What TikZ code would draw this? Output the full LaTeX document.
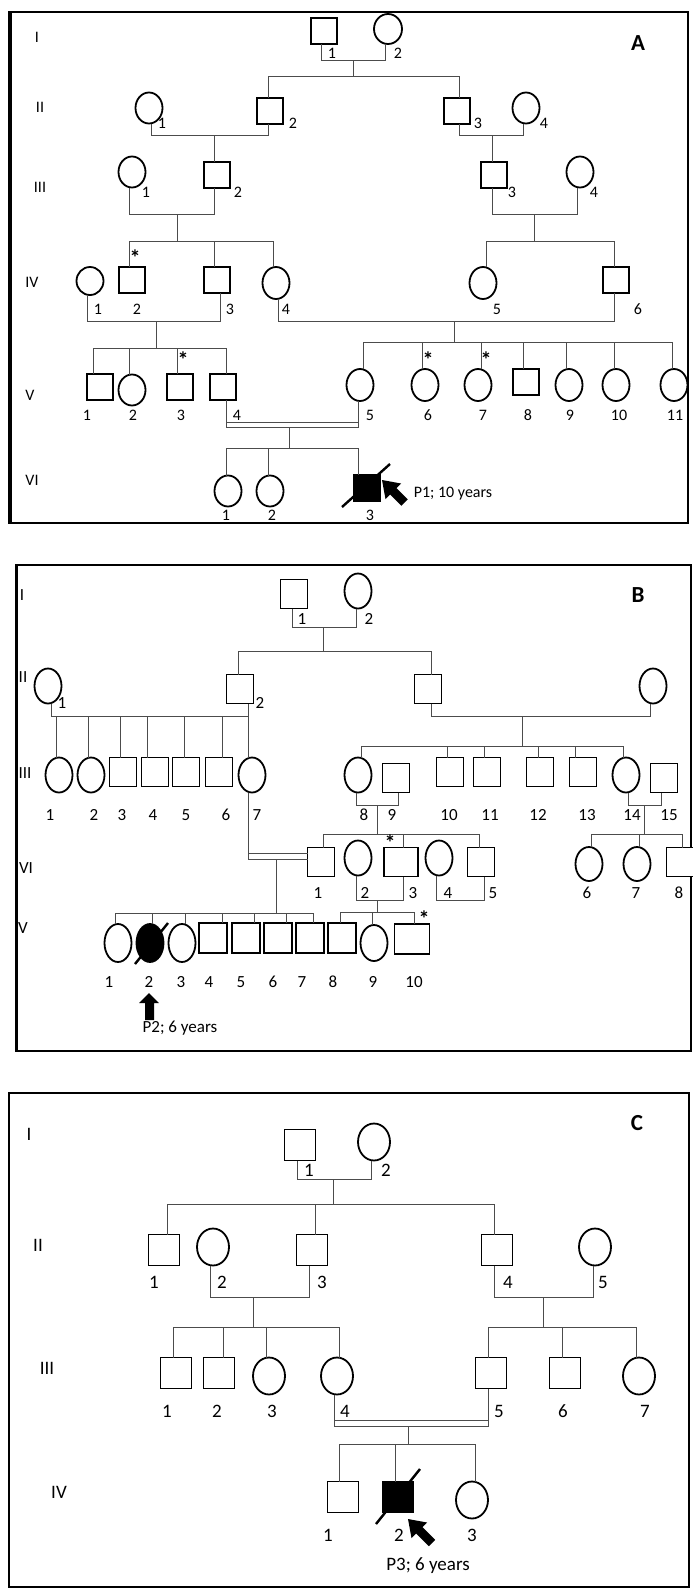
\documentclass[tikz,border=0pt]{standalone}
\usepackage{fontspec}
\setmainfont{Carlito}
\usetikzlibrary{shapes.geometric}
\newcounter{lc}
\newcommand\plab[3]{\stepcounter{lc}\node[num] (t\arabic{lc}) at (#1,#2) {#3};}
\newcommand\pmar[5]{\draw[ln] (#1.south -| #2,0) -- (#2,#5) -- (#4,#5) -- (#3.south -| #4,0);}
\newcommand\pkid[3]{\draw[ln] (#1.north -| #2,0) -- (#2,#3);}
\tikzset{
  sym/.style={draw, line width=1.8pt, inner sep=0pt, outer sep=0pt, fill=white},
  sq/.style={sym, rectangle, minimum width=26pt, minimum height=26pt},
  ci/.style={sym, ellipse, minimum width=27pt, minimum height=31pt},
  aff/.style={fill=black},
  ln/.style={line width=0.8pt, black!70},
  sl/.style={line width=2.4pt},
  num/.style={inner sep=0pt, font=\fontsize{16}{16}\selectfont},
  pan/.style={inner sep=0pt, font=\fontsize{23}{23}\selectfont\bfseries},
  ast/.style={inner sep=0pt, anchor=north, font=\fontsize{22}{22}\selectfont\bfseries},
  frame/.style={line width=1.8pt}
}
\begin{document}
\begin{tikzpicture}[x=1pt,y=-1pt]
\useasboundingbox (0,0) rectangle (693,1593);
% ================= Panel A =================
\draw[frame] (10,12) rectangle (688,523);
\draw[line width=3.5pt] (10,11) -- (10,524);
\node[pan] (pA) at (638,43) {A};
\begin{scope}[num/.style={inner sep=0pt, font=\fontsize{16}{16}\selectfont}]
\plab{37}{37}{I}\plab{40}{107}{II}\plab{40}{187}{III}
\plab{32}{282}{IV}\plab{30}{395}{V}\plab{32}{480}{VI}
% gen I
\node[sq] (a11) at (324,31) {};
\node[ci, minimum width=28pt, minimum height=30pt] (a12) at (388,29) {};
\plab{332}{53}{1}\plab{398}{53}{2}
\pmar{a11}{321}{a12}{385}{60}
\draw[ln] (353,60) -- (353,76);
\draw[ln] (268,76) -- (459,76);
% gen II
\node[ci] (a21) at (149,108) {};
\node[sq] (a22) at (270,111) {};
\node[sq] (a23) at (457,111) {};
\node[ci] (a24) at (526,108) {};
\pkid{a22}{268}{76}\pkid{a23}{459}{76}
\plab{162}{123}{1}\plab{293}{123}{2}\plab{478}{123}{3}\plab{544}{123}{4}
\pmar{a21}{151}{a22}{268}{135}
\pmar{a23}{459}{a24}{523}{135}
% gen III
\node[ci] (a31) at (132,172) {};
\node[sq] (a32) at (217,175) {};
\node[sq] (a33) at (494,175) {};
\node[ci] (a34) at (580,172) {};
\pkid{a32}{214}{135}\pkid{a33}{492}{135}
\plab{146}{192}{1}\plab{238}{192}{2}\plab{512}{192}{3}\plab{594}{192}{4}
\pmar{a31}{129}{a32}{214}{214}
\draw[ln] (177,214) -- (177,241);
\draw[ln] (129,241) -- (273,241);
\pmar{a33}{492}{a34}{577}{214}
\draw[ln] (534,214) -- (534,241);
\draw[ln] (486,241) -- (614,241);
% gen IV
\node[ci, minimum height=28pt] (a41) at (90,281) {};
\node[sq] (a42) at (132,280) {};
\node[sq] (a43) at (217,280) {};
\node[ci, minimum height=32pt] (a44) at (276,283) {};
\node[ci, minimum height=32pt] (a45) at (483,283) {};
\node[sq] (a46) at (616,280) {};
\pkid{a42}{129}{241}\pkid{a43}{214}{241}\pkid{a44}{273}{241}
\pkid{a45}{486}{241}\pkid{a46}{614}{241}
\node[ast] (s1) at (135,250) {*};
\plab{98}{309}{1}\plab{137}{309}{2}\plab{230}{309}{3}\plab{286}{309}{4}
\plab{497}{309}{5}\plab{638}{309}{6}
\pmar{a41}{87}{a43}{220}{321}
\draw[ln] (156,321) -- (156,348);
\draw[ln] (93,348) -- (226,348);
\pmar{a44}{278}{a46}{614}{321}
\draw[ln] (454,321) -- (454,342);
\draw[ln] (363,342) -- (672,342);
% gen V
\node[sq] (a51) at (100,387) {};
\node[ci] (a52) at (132,390) {};
\node[sq] (a53) at (180,387) {};
\node[sq] (a54) at (223,387) {};
\pkid{a51}{93}{348}\pkid{a52}{129}{348}\pkid{a53}{177}{348}\pkid{a54}{226}{348}
\node[ast] (s2) at (183,352) {*};
\plab{87}{415}{1}\plab{133}{415}{2}\plab{181}{415}{3}\plab{237}{415}{4}
\node[ci, minimum height=32pt] (a55) at (360,385) {};
\node[ci, minimum height=32pt] (a56) at (425,385) {};
\node[ci, minimum height=32pt] (a57) at (478,385) {};
\node[sq] (a58) at (526,382) {};
\node[ci, minimum height=32pt] (a59) at (569,385) {};
\node[ci, minimum height=32pt] (a510) at (616,385) {};
\node[ci, minimum height=32pt] (a511) at (674,385) {};
\pkid{a55}{363}{342}\pkid{a56}{422}{342}\pkid{a57}{481}{342}\pkid{a58}{523}{342}
\pkid{a59}{566}{342}\pkid{a510}{614}{342}\pkid{a511}{672}{342}
\node[ast] (s3) at (428,352) {*};
\node[ast] (s4) at (486,352) {*};
\plab{370}{415}{5}\plab{428}{415}{6}\plab{483}{415}{7}\plab{528}{415}{8}
\plab{570}{415}{9}\plab{619}{415}{10}\plab{675}{415}{11}
\pmar{a54}{226}{a55}{358}{427}
\draw[ln] (226,422) -- (358,422);
\draw[ln] (289,427) -- (289,448);
\draw[ln] (226,448) -- (358,448);
% gen VI
\node[ci] (a61) at (228,491) {};
\node[ci] (a62) at (270,491) {};
\node[sq, aff] (a63) at (367,488) {};
\pkid{a61}{226}{448}\pkid{a62}{268}{448}\pkid{a63}{358}{448}
\plab{226}{515}{1}\plab{272}{515}{2}\plab{370}{515}{3}
\draw[sl] (342,507) -- (390,464);
\fill (382,480) -- (401.1,483.5) -- (396.5,488.1) -- (407.8,499.4) -- (401.4,505.8) -- (390.1,494.5) -- (385.5,499.1) -- cycle;
\plab{453}{494}{P1; 10 years}
\end{scope}
% ================= Panel B =================
\draw[frame] (16,565) rectangle (691,1051);
\draw[line width=3pt] (16,564) -- (16,1052);
\node[pan] (pB) at (638,595) {B};
\begin{scope}[num/.style={inner sep=0pt, font=\fontsize{17}{17}\selectfont},
  sq/.style={sym, rectangle, minimum width=27pt, minimum height=29pt},
  ci/.style={sym, ellipse, minimum width=27pt, minimum height=35pt}]
\plab{22}{595}{I}\plab{23}{677}{II}\plab{25}{773}{III}\plab{26}{868}{VI}\plab{23}{928}{V}
% gen I
\node[sq] (b11) at (294,594) {};
\node[ci] (b12) at (358,591) {};
\plab{302}{619}{1}\plab{369}{619}{2}
\pmar{b11}{292}{b12}{356}{627}
\draw[ln] (323,627) -- (323,651);
\draw[ln] (238,651) -- (431,651);
% gen II
\node[ci] (b21) at (48,686) {};
\node[sq] (b22) at (240,689) {};
\node[sq] (b23) at (428,689) {};
\node[ci] (b24) at (653,686) {};
\pkid{b22}{238}{651}\pkid{b23}{431}{651}
\plab{62}{703}{1}\plab{260}{703}{2}
\pmar{b21}{51}{b22}{248}{716}
\pmar{b23}{431}{b24}{650}{716}
\draw[ln] (522,716) -- (522,746);
\draw[ln] (361,746) -- (623,746);
% gen III
\node[ci] (b31) at (59,775) {};
\node[ci] (b32) at (91,775) {};
\node[sq] (b33) at (123,772) {};
\node[sq] (b34) at (155,772) {};
\node[sq] (b35) at (186,772) {};
\node[sq] (b36) at (219,772) {};
\node[ci] (b37) at (252,775) {};
\pkid{b31}{56}{716}\pkid{b32}{88}{716}\pkid{b33}{120}{716}\pkid{b34}{147}{716}
\pkid{b35}{184}{716}\pkid{b36}{222}{716}\pkid{b37}{248}{716}
\plab{50}{815}{1}\plab{94}{815}{2}\plab{122}{815}{3}\plab{153}{815}{4}
\plab{186}{815}{5}\plab{226}{815}{6}\plab{257}{815}{7}
\node[ci] (b38) at (358,775) {};
\node[sq] (b39) at (396,778) {};
\node[sq] (b310) at (450,772) {};
\node[sq] (b311) at (487,772) {};
\node[sq] (b312) at (540,772) {};
\node[sq] (b313) at (583,772) {};
\node[ci] (b314) at (626,775) {};
\node[sq] (b315) at (664,778) {};
\pkid{b38}{361}{746}\pkid{b310}{447}{746}\pkid{b311}{484}{746}
\pkid{b312}{538}{746}\pkid{b313}{575}{746}\pkid{b314}{623}{746}
\plab{364}{815}{8}\plab{392}{815}{9}\plab{449}{815}{10}\plab{490}{815}{11}
\plab{538}{815}{12}\plab{587}{815}{13}\plab{632}{815}{14}\plab{669}{815}{15}
\pmar{b38}{356}{b39}{398}{805}
\draw[ln] (377,805) -- (377,834);
\draw[ln] (323,834) -- (479,834);
\pmar{b314}{628}{b315}{661}{805}
\draw[ln] (644,805) -- (644,834);
\draw[ln] (591,834) -- (682,834);
% gen "VI"
\node[sq] (b41) at (321,862) {};
\node[ci] (b42) at (358,858) {};
\node[sq, minimum width=34pt] (b43) at (401,862) {};
\node[ci] (b44) at (439,858) {};
\node[sq] (b45) at (481,862) {};
\node[ci, minimum height=34pt] (b46) at (589,864) {};
\node[ci, minimum height=34pt] (b47) at (637,864) {};
\node[sq] (b48) at (680,862) {};
\pkid{b41}{323}{834}\pkid{b43}{403}{834}\pkid{b45}{479}{834}
\pkid{b46}{591}{834}\pkid{b47}{639}{834}\pkid{b48}{682}{834}
\node[ast] (s5) at (390,835) {*};
\plab{318}{893}{1}\plab{365}{893}{2}\plab{413}{893}{3}\plab{448}{893}{4}
\plab{493}{893}{5}\plab{587}{893}{6}\plab{636}{893}{7}\plab{679}{893}{8}
\draw[ln] (b37.south -| 248,0) -- (248,859) -- (b41.west |- 0,859);
\draw[ln] (248,853) -- (b41.west |- 0,853);
\draw[ln] (276,859) -- (276,913);
\draw[ln] (115,913) -- (313,913);
\pmar{b42}{356}{b43}{403}{900}
\draw[ln] (377,900) -- (377,912);
\draw[ln] (340,912) -- (414,912);
\pmar{b44}{436}{b45}{484}{900}
% gen V
\node[ci, minimum height=38pt] (b51) at (118,943) {};
\node[ci, minimum height=38pt, aff] (b52) at (150,943) {};
\node[ci, minimum height=38pt] (b53) at (182,943) {};
\node[sq, minimum width=28pt, minimum height=30pt] (b54) at (213,938) {};
\node[sq, minimum width=28pt, minimum height=30pt] (b55) at (246,938) {};
\node[sq, minimum width=28pt, minimum height=30pt] (b56) at (278,938) {};
\node[sq, minimum width=28pt, minimum height=30pt] (b57) at (310,938) {};
\node[sq, minimum width=28pt, minimum height=30pt] (b58) at (342,938) {};
\node[ci, minimum height=36pt] (b59) at (374,943) {};
\node[sq, minimum width=35pt, minimum height=30pt] (b510) at (412,939) {};
\pkid{b51}{115}{913}\pkid{b52}{152}{913}\pkid{b53}{185}{913}\pkid{b54}{222}{913}
\pkid{b55}{254}{913}\pkid{b56}{286}{913}\pkid{b57}{313}{913}
\pkid{b58}{340}{912}\pkid{b59}{372}{912}\pkid{b510}{414}{912}
\node[ast] (s6) at (424,911) {*};
\plab{109}{982}{1}\plab{149}{982}{2}\plab{181}{982}{3}\plab{209}{982}{4}
\plab{241}{982}{5}\plab{273}{982}{6}\plab{302}{982}{7}\plab{333}{982}{8}
\plab{373}{982}{9}\plab{414}{982}{10}
\draw[sl] (135,964) -- (168,923);
\fill (149,993) -- (159,1003) -- (154,1003) -- (154,1020) -- (145,1020) -- (145,1003) -- (139,1003) -- cycle;
\plab{180}{1028}{P2; 6 years}
\end{scope}
% ================= Panel C =================
\draw[frame] (9,1093) rectangle (689,1587);
\node[pan] (pC) at (637,1123) {C};
\begin{scope}[num/.style={inner sep=0pt, font=\fontsize{19}{19}\selectfont},
  sq/.style={sym, rectangle, minimum width=31pt, minimum height=31pt},
  ci/.style={sym, ellipse, minimum width=32pt, minimum height=37pt}]
\plab{29}{1134}{I}\plab{38}{1245}{II}\plab{47}{1368}{III}\plab{59}{1492}{IV}
\node[sq] (c11) at (300,1145) {};
\node[ci] (c12) at (374,1142) {};
\plab{309}{1170}{1}\plab{386}{1170}{2}
\pmar{c11}{297}{c12}{371}{1179}
\draw[ln] (333,1179) -- (333,1204);
\draw[ln] (167,1204) -- (494,1204);
\node[sq] (c21) at (164,1250) {};
\node[ci] (c22) at (213,1247) {};
\node[sq] (c23) at (312,1250) {};
\node[sq] (c24) at (497,1250) {};
\node[ci] (c25) at (595,1247) {};
\pkid{c21}{167}{1204}\pkid{c23}{315}{1204}\pkid{c24}{494}{1204}
\plab{154}{1282}{1}\plab{222}{1282}{2}\plab{322}{1282}{3}\plab{508}{1282}{4}\plab{603}{1282}{5}
\pmar{c22}{210}{c23}{309}{1297}
\draw[ln] (253,1297) -- (253,1327);
\draw[ln] (173,1327) -- (339,1327);
\pmar{c24}{494}{c25}{593}{1297}
\draw[ln] (543,1297) -- (543,1327);
\draw[ln] (488,1327) -- (636,1327);
\node[sq] (c31) at (176,1373) {};
\node[sq] (c32) at (219,1373) {};
\node[ci] (c33) at (269,1376) {};
\node[ci] (c34) at (337,1376) {};
\node[sq] (c35) at (491,1373) {};
\node[sq] (c36) at (565,1373) {};
\node[ci] (c37) at (639,1376) {};
\pkid{c31}{173}{1327}\pkid{c32}{223}{1327}\pkid{c33}{266}{1327}\pkid{c34}{339}{1327}
\pkid{c35}{488}{1327}\pkid{c36}{562}{1327}\pkid{c37}{636}{1327}
\plab{167}{1411}{1}\plab{217}{1411}{2}\plab{272}{1411}{3}\plab{345}{1411}{4}
\plab{499}{1411}{5}\plab{563}{1411}{6}\plab{645}{1411}{7}
\pmar{c34}{334}{c35}{488}{1426}
\draw[ln] (334,1420) -- (488,1420);
\draw[ln] (408,1426) -- (408,1444);
\draw[ln] (339,1444) -- (475,1444);
\node[sq] (c41) at (343,1497) {};
\node[sq, aff] (c42) at (398,1497) {};
\node[ci] (c43) at (472,1500) {};
\pkid{c41}{339}{1444}\pkid{c42}{395}{1444}\pkid{c43}{475}{1444}
\plab{328}{1535}{1}\plab{399}{1535}{2}\plab{472}{1535}{3}
\draw[sl] (376,1524) -- (420,1469);
\fill (408,1519) -- (427.1,1522.5) -- (422.5,1527.1) -- (435.2,1539.8) -- (428.8,1546.2) -- (416.1,1533.5) -- (411.5,1538.1) -- cycle;
\plab{428}{1566}{P3; 6 years}
\end{scope}
\end{tikzpicture}
\end{document}
